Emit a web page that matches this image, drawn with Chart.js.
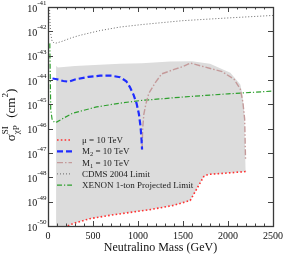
<!DOCTYPE html>
<html>
<head>
<meta charset="utf-8">
<script src="https://cdn.jsdelivr.net/npm/chart.js@4.4.1/dist/chart.umd.min.js"></script>
<style>
  html, body { margin: 0; padding: 0; background: #fff; }
  #c { display: block; }
</style>
</head>
<body>
<canvas id="c" width="284" height="254"></canvas>
<script>
// allowed region (gray): upper edge left->right, then back along the mu = 10 TeV line
const regionMass  = [90, 90, 110, 300, 574, 800, 1044, 1357, 1600, 1800, 2026, 2137, 2160, 2180, 2195,
                     2205, 2000, 1780, 1730, 1580, 1400, 1133, 700, 463, 350, 277, 220, 90];
const regionSigma = [1e-50, 3.8e-44, 3.3e-44, 3.8e-44, 4.2e-44, 4.6e-44, 4.9e-44, 5.75e-44, 5.9e-44, 4.7e-44, 2.0e-44, 6.6e-45, 2.5e-45, 5.0e-46, 2.0e-48,
                     1.74e-48, 1.51e-48, 1.32e-48, 1.07e-48, 1.12e-49, 7.1e-50, 4.7e-50, 2.8e-50, 2.0e-50, 1.5e-50, 1.26e-50, 1e-50, 1e-50];

// mu = 10 TeV
const muMass  = [220, 277, 350, 463, 700, 1133, 1400, 1580, 1730, 1780, 2000, 2205];
const muSigma = [1e-50, 1.26e-50, 1.5e-50, 2.0e-50, 2.8e-50, 4.7e-50, 7.1e-50, 1.12e-49, 1.07e-48, 1.32e-48, 1.51e-48, 1.74e-48];

// M2 = 10 TeV
const m2Mass  = [50, 100, 170, 230, 300, 450, 580, 700, 800, 870, 910, 950, 984, 1010, 1029, 1040, 1045];
const m2Sigma = [1.15e-44, 1.07e-44, 9.1e-45, 8.5e-45, 1.05e-44, 1.35e-44, 1.5e-44, 1.5e-44, 1.3e-44, 8.9e-45, 5.1e-45, 2.5e-45, 1.1e-45, 4.0e-46, 1.15e-46, 3.2e-47, 1.4e-47];

// M1 = 10 TeV
const m1Mass  = [1045, 1052, 1065, 1090, 1120, 1190, 1263, 1410, 1500, 1580, 1745, 1935, 2068, 2137, 2165, 2185, 2195];
const m1Sigma = [1.4e-47, 1.0e-46, 4.0e-46, 1.12e-45, 2.8e-45, 7.6e-45, 1.78e-44, 2.8e-44, 3.55e-44, 5.0e-44, 3.4e-44, 2.2e-44, 1.07e-44, 4.2e-45, 1.26e-45, 2.5e-46, 5.0e-48];

// CDMS 2004 limit
const cdmsMass  = [17, 22, 30, 45, 73, 150, 250, 350, 575, 800, 1044, 1500, 2000, 2500];
const cdmsSigma = [1e-41, 2.5e-42, 7.9e-43, 4.0e-43, 3.16e-43, 3.8e-43, 5.25e-43, 6.8e-43, 1.07e-42, 1.5e-42, 1.9e-42, 2.75e-42, 3.55e-42, 4.5e-42];

// XENON 1-ton projected limit
const xenonMass  = [20, 30, 45, 72, 100, 147, 273, 540, 800, 1044, 1500, 2000, 2500];
const xenonSigma = [3.2e-43, 6.3e-46, 2.5e-46, 1.78e-46, 1.9e-46, 2.4e-46, 4.3e-46, 7.8e-46, 1.12e-45, 1.45e-45, 2.0e-45, 2.7e-45, 3.5e-45];

const xTickValues = [0, 500, 1000, 1500, 2000, 2500];
const yTickValues = [1e-50, 1e-49, 1e-48, 1e-47, 1e-46, 1e-45, 1e-44, 1e-43, 1e-42, 1e-41];
const yTickExps   = ['-50', '-49', '-48', '-47', '-46', '-45', '-44', '-43', '-42', '-41'];

const SERIF = '"Liberation Serif", "DejaVu Serif", serif';

function pts(xs, ys) { return xs.map((x, i) => ({ x: x, y: ys[i] })); }

const lineStyles = {
  mu:    { color: '#ff3030', width: 1.6, dash: [1.6, 2.2] },
  m2:    { color: '#1f2cff', width: 2.2, dash: [6, 3] },
  m1:    { color: '#c49a9a', width: 1.4, dash: [6, 2, 1.5, 2] },
  cdms:  { color: '#666666', width: 1.0, dash: [1, 2] },
  xenon: { color: '#2ea02e', width: 1.2, dash: [5, 2, 1.2, 2] }
};

const legendItems = [
  { key: 'mu',    parts: [['μ = 10 TeV', 0]] },
  { key: 'm2',    parts: [['M', 0], ['2', 1], [' = 10 TeV', 0]] },
  { key: 'm1',    parts: [['M', 0], ['1', 1], [' = 10 TeV', 0]] },
  { key: 'cdms',  parts: [['CDMS 2004 Limit', 0]] },
  { key: 'xenon', parts: [['XENON 1-ton Projected Limit', 0]] }
];

function lineSet(key, xs, ys, order) {
  const s = lineStyles[key];
  return {
    data: pts(xs, ys), borderColor: s.color, borderWidth: s.width, borderDash: s.dash,
    pointRadius: 0, fill: false, tension: 0, order: order
  };
}

const decor = {
  id: 'decor',
  afterDatasetsDraw(chart) {
    const ctx = chart.ctx;
    // legend
    ctx.save();
    legendItems.forEach((it, i) => {
      const y = 140 + i * 11.3;
      const s = lineStyles[it.key];
      ctx.strokeStyle = s.color; ctx.lineWidth = s.width; ctx.setLineDash(s.dash);
      ctx.beginPath(); ctx.moveTo(57, y); ctx.lineTo(72, y); ctx.stroke();
      ctx.setLineDash([]);
      ctx.fillStyle = '#222'; ctx.textBaseline = 'alphabetic'; ctx.textAlign = 'left';
      let x = 82;
      it.parts.forEach(([t, sub]) => {
        ctx.font = (sub ? '6.5px ' : '9px ') + SERIF;
        ctx.fillText(t, x, y + 3 + (sub ? 2 : 0));
        x += ctx.measureText(t).width;
      });
    });
    ctx.restore();
  },
  afterDraw(chart) {
    const ctx = chart.ctx, a = chart.chartArea, xs = chart.scales.x, ys = chart.scales.y;
    ctx.save();
    ctx.strokeStyle = '#444'; ctx.lineWidth = 1;
    // x ticks, major and minor, inward on bottom and top
    for (let v = 0; v <= 2500; v += 100) {
      const px = Math.round(xs.getPixelForValue(v)) + 0.5;
      const len = v % 500 === 0 ? 5 : 2.5;
      ctx.beginPath();
      ctx.moveTo(px, a.bottom); ctx.lineTo(px, a.bottom - len);
      ctx.moveTo(px, a.top); ctx.lineTo(px, a.top + len);
      ctx.stroke();
    }
    // y ticks at decades, inward on left and right
    yTickValues.forEach(v => {
      const py = Math.round(ys.getPixelForValue(v)) + 0.5;
      ctx.beginPath();
      ctx.moveTo(a.left, py); ctx.lineTo(a.left + 5, py);
      ctx.moveTo(a.right, py); ctx.lineTo(a.right - 5, py);
      ctx.stroke();
    });
    // frame
    ctx.lineWidth = 1.3; ctx.strokeStyle = '#3a3a3a';
    ctx.strokeRect(a.left + 0.5, a.top + 0.5, a.right - a.left, a.bottom - a.top);

    ctx.fillStyle = '#111';
    // x tick labels
    ctx.font = '10px ' + SERIF; ctx.textAlign = 'center'; ctx.textBaseline = 'alphabetic';
    xTickValues.forEach(v => ctx.fillText(String(v), xs.getPixelForValue(v), a.bottom + 13));
    // y tick labels 10^e
    ctx.textAlign = 'right';
    yTickValues.forEach((v, i) => {
      const py = ys.getPixelForValue(v);
      ctx.font = '7px ' + SERIF;
      const w = ctx.measureText(yTickExps[i]).width;
      ctx.fillText(yTickExps[i], 46.5, py - 2);
      ctx.font = '10px ' + SERIF;
      ctx.fillText('10', 46.5 - w, py + 4.5);
    });
    // x title
    ctx.font = '12px ' + SERIF; ctx.textAlign = 'center';
    ctx.fillText('Neutralino Mass (GeV)', 160.5, 251);
    // y title, rotated
    ctx.translate(15, 115); ctx.rotate(-Math.PI / 2);
    ctx.textAlign = 'left';
    const big = '13px ' + SERIF, small = '9px ' + SERIF;
    ctx.font = big; const wSig = ctx.measureText('σ').width, wCm = ctx.measureText('  (cm').width, wPar = ctx.measureText(')').width;
    ctx.font = small; const wStack = Math.max(ctx.measureText('χP').width, ctx.measureText('SI').width), w2 = ctx.measureText('2').width;
    const total = wSig + wStack + 1 + wCm + w2 + wPar;
    let x = -total / 2;
    ctx.font = big; ctx.fillText('σ', x, 0); x += wSig;
    ctx.font = small; ctx.fillText('SI', x, -7); ctx.fillText('χP', x, 4); x += wStack + 1;
    ctx.font = big; ctx.fillText('  (cm', x, 0); x += wCm;
    ctx.font = small; ctx.fillText('2', x, -7); x += w2;
    ctx.font = big; ctx.fillText(')', x, 0);
    ctx.restore();
  }
};

new Chart(document.getElementById('c').getContext('2d'), {
  type: 'line',
  data: {
    datasets: [
      { data: pts(regionMass, regionSigma), borderWidth: 0, borderColor: 'rgba(0,0,0,0)',
        backgroundColor: '#dcdcdc', fill: 'shape', pointRadius: 0, tension: 0, order: 10 },
      lineSet('xenon', xenonMass, xenonSigma, 5),
      lineSet('cdms', cdmsMass, cdmsSigma, 4),
      lineSet('m1', m1Mass, m1Sigma, 3),
      lineSet('m2', m2Mass, m2Sigma, 2),
      lineSet('mu', muMass, muSigma, 1)
    ]
  },
  options: {
    responsive: false,
    animation: false,
    layout: { padding: { left: 48, right: 11, top: 7, bottom: 28 } },
    plugins: { legend: { display: false }, tooltip: { enabled: false } },
    scales: {
      x: { type: 'linear', min: 0, max: 2500, display: false },
      y: { type: 'logarithmic', min: 1e-50, max: 1e-41, display: false }
    }
  },
  plugins: [decor]
});
</script>
</body>
</html>
